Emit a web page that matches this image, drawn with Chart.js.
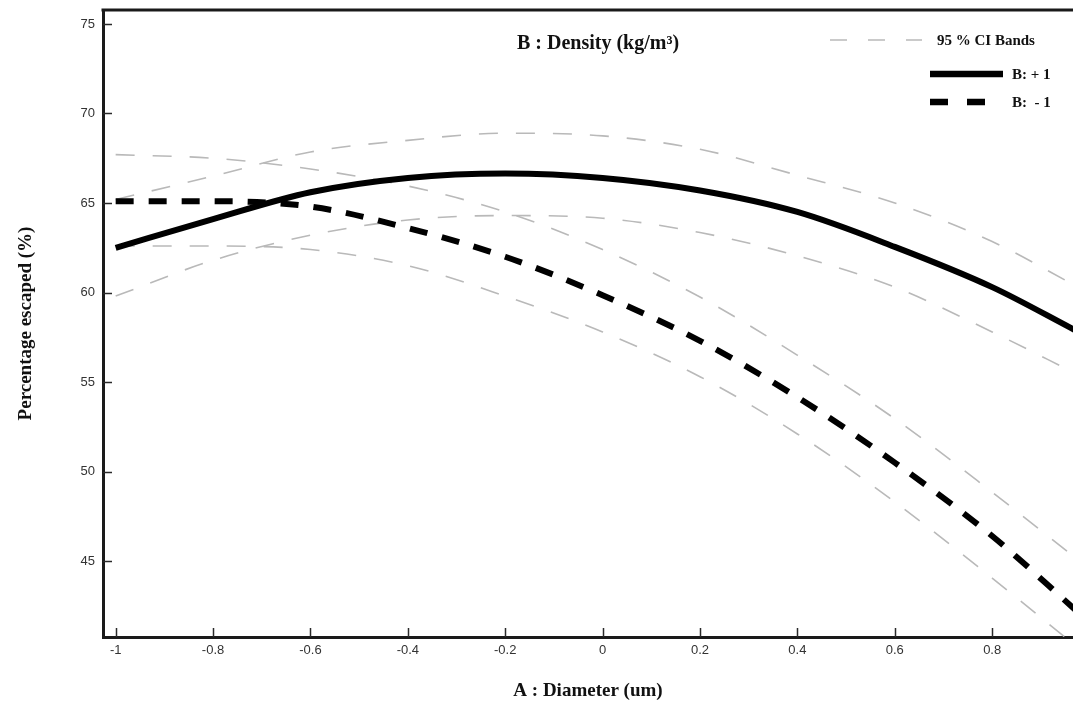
<!DOCTYPE html>
<html>
<head>
<meta charset="utf-8">
<script src="https://cdn.jsdelivr.net/npm/chart.js@4.4.1/dist/chart.umd.min.js"></script>
<style>
  html, body { margin: 0; padding: 0; background: #fff; }
  #wrap { width: 1073px; height: 706px; position: relative; }
</style>
</head>
<body>
<div id="wrap"><canvas id="rsmChart"></canvas></div>
<script>
// A : Diameter (coded)
const diameter = [-1, -0.8, -0.6, -0.4, -0.2, 0, 0.2, 0.4, 0.6, 0.8, 0.97];

// predicted percentage escaped
const densityPlus = [62.5, 64.1, 65.6, 66.4, 66.65, 66.4, 65.7, 64.5, 62.55, 60.3, 57.9];
const densityMinus = [65.1, 65.1, 64.8, 63.6, 62.0, 59.85, 57.3, 54.15, 50.5, 46.4, 42.3];

// 95 % CI bands
const plusUpper = [65.2, 66.5, 67.85, 68.5, 68.9, 68.75, 68.0, 66.55, 65.0, 62.85, 60.4];
const plusLower = [59.8, 61.8, 63.2, 64.05, 64.3, 64.15, 63.35, 62.05, 60.3, 57.8, 55.5];
const minusUpper = [67.7, 67.5, 66.9, 65.95, 64.5, 62.4, 59.75, 56.5, 52.95, 48.85, 45.2];
const minusLower = [62.6, 62.6, 62.4, 61.5, 59.8, 57.8, 55.3, 52.1, 48.3, 44.05, 40.3];

const xTicks = [-1, -0.8, -0.6, -0.4, -0.2, 0, 0.2, 0.4, 0.6, 0.8];
const yTicks = [45, 50, 55, 60, 65, 70, 75];

const toPoints = (vals) => diameter.map((x, i) => ({ x: x, y: vals[i] }));

const ciStyle = {
  borderColor: '#b9b9b9',
  borderWidth: 1.6,
  borderDash: [19, 18],
  pointRadius: 0,
  cubicInterpolationMode: 'monotone',
  fill: false
};

const serif = '"Liberation Serif", "Times New Roman", serif';
const sans = '"Liberation Sans", Arial, sans-serif';

// inward tick marks, top frame and the in-plot texts
const framePlugin = {
  id: 'frame',
  afterDraw(chart) {
    const ctx = chart.ctx;
    const area = chart.chartArea;
    const xs = chart.scales.x;
    const ys = chart.scales.y;
    ctx.save();
    ctx.strokeStyle = '#2a2a2a';
    ctx.lineWidth = 1.5;
    xTicks.forEach(v => {
      const px = Math.round(xs.getPixelForValue(v)) + 0.5;
      ctx.beginPath();
      ctx.moveTo(px, area.bottom);
      ctx.lineTo(px, area.bottom - 9);
      ctx.stroke();
    });
    yTicks.forEach(v => {
      const py = Math.round(ys.getPixelForValue(v)) + 0.5;
      ctx.beginPath();
      ctx.moveTo(area.left, py);
      ctx.lineTo(area.left + 9, py);
      ctx.stroke();
    });
    // top border
    ctx.lineWidth = 3;
    ctx.strokeStyle = '#1a1a1a';
    ctx.beginPath();
    ctx.moveTo(area.left - 1.5, area.top);
    ctx.lineTo(area.right, area.top);
    ctx.stroke();

    // inner title
    ctx.fillStyle = '#111';
    ctx.font = 'bold 20px ' + serif;
    ctx.textBaseline = 'middle';
    ctx.textAlign = 'center';
    ctx.fillText('B : Density (kg/m³)', 598, 44);

    // legend
    ctx.font = 'bold 15px ' + serif;
    ctx.textAlign = 'left';
    ctx.strokeStyle = '#b9b9b9';
    ctx.lineWidth = 1.6;
    ctx.setLineDash([17, 21]);
    ctx.beginPath();
    ctx.moveTo(830, 40);
    ctx.lineTo(922, 40);
    ctx.stroke();
    ctx.fillText('95 % CI Bands', 937, 41);

    ctx.setLineDash([]);
    ctx.strokeStyle = '#000';
    ctx.lineWidth = 6.5;
    ctx.beginPath();
    ctx.moveTo(930, 74);
    ctx.lineTo(1003, 74);
    ctx.stroke();
    ctx.fillText('B: + 1', 1012, 75);

    ctx.setLineDash([18, 19]);
    ctx.beginPath();
    ctx.moveTo(930, 102);
    ctx.lineTo(986, 102);
    ctx.stroke();
    ctx.fillText('B:  - 1', 1012, 103);
    ctx.restore();
  }
};

new Chart(document.getElementById('rsmChart').getContext('2d'), {
  type: 'line',
  data: {
    datasets: [
      {
        label: 'B: + 1',
        data: toPoints(densityPlus),
        borderColor: '#000',
        borderWidth: 6,
        pointRadius: 0,
        cubicInterpolationMode: 'monotone',
        fill: false
      },
      {
        label: 'B: - 1',
        data: toPoints(densityMinus),
        borderColor: '#000',
        borderWidth: 6,
        borderDash: [18, 15],
        pointRadius: 0,
        cubicInterpolationMode: 'monotone',
        fill: false
      },
      Object.assign({ label: 'CI +1 upper', data: toPoints(plusUpper) }, ciStyle),
      Object.assign({ label: 'CI +1 lower', data: toPoints(plusLower) }, ciStyle),
      Object.assign({ label: 'CI -1 upper', data: toPoints(minusUpper) }, ciStyle),
      Object.assign({ label: 'CI -1 lower', data: toPoints(minusLower) }, ciStyle)
    ]
  },
  options: {
    responsive: true,
    maintainAspectRatio: false,
    animation: false,
    layout: { padding: { top: 10, right: 0, left: 0, bottom: 0 } },
    scales: {
      x: {
        type: 'linear',
        min: -1.026,
        max: 0.966,
        grid: { display: false, drawTicks: false },
        border: { color: '#1a1a1a', width: 3 },
        afterBuildTicks: (scale) => { scale.ticks = xTicks.map(v => ({ value: v })); },
        ticks: {
          padding: 6,
          color: '#333',
          font: { family: sans, size: 13 },
          callback: (v) => String(+Number(v).toFixed(2))
        },
        title: {
          display: true,
          text: 'A : Diameter (um)',
          color: '#111',
          font: { family: serif, size: 19, weight: 'bold' },
          padding: { top: 0, bottom: 4 }
        },
        afterFit: (scale) => {
          scale.height = 69;
          scale.paddingLeft = 0;
          scale.paddingRight = 0;
        }
      },
      y: {
        min: 40.76,
        max: 75.78,
        grid: { display: false, drawTicks: false },
        border: { color: '#1a1a1a', width: 3 },
        afterBuildTicks: (scale) => { scale.ticks = yTicks.map(v => ({ value: v })); },
        ticks: {
          padding: 8,
          color: '#333',
          font: { family: sans, size: 13 }
        },
        title: {
          display: true,
          text: 'Percentage escaped (%)',
          color: '#111',
          font: { family: serif, size: 19, weight: 'bold' },
          padding: { top: 15, bottom: 0 }
        },
        afterFit: (scale) => {
          scale.width = 103;
          scale.paddingTop = 0;
          scale.paddingBottom = 0;
        }
      }
    },
    plugins: {
      legend: { display: false },
      tooltip: { enabled: false }
    }
  },
  plugins: [framePlugin]
});
</script>
</body>
</html>
